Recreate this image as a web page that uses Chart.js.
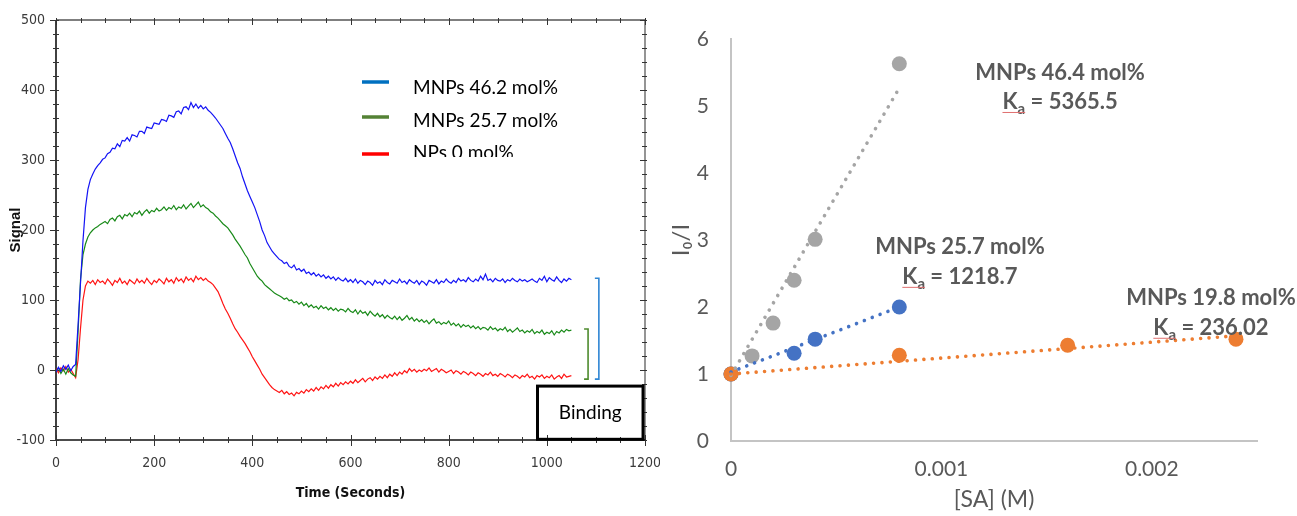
<!DOCTYPE html>
<html><head><meta charset="utf-8">
<script src="https://cdn.jsdelivr.net/npm/chart.js@4.4.1/dist/chart.umd.min.js"></script>
<style>
html,body{margin:0;padding:0;background:#fff;width:1297px;height:516px;overflow:hidden}
#wrap{position:relative;width:1297px;height:516px;background:#fff}
#left{position:absolute;left:0;top:0;width:660px;height:516px}
#right{position:absolute;left:660px;top:0;width:637px;height:516px}
</style></head><body>
<div id="wrap"><canvas id="left" width="660" height="516"></canvas><canvas id="right" width="637" height="516"></canvas></div>
<script>
// ---------- Left chart: sensorgram (signal vs time, 5 s sampling) ----------
const TIME_STEP_S = 5;
const SIGNAL_BLUE = [
 -3, 4, -2, 6, 1, 7, -1, 5, 8, 65,
 125, 185, 232, 258, 272, 280, 287, 292, 296, 301,
 303, 309, 311, 317, 316, 323, 319, 328, 327, 332,
 327, 336, 335, 333, 341, 341, 338, 347, 346, 345,
 353, 352, 351, 358, 357, 355, 364, 363, 361, 369,
 370, 366, 375, 376, 372, 382, 375, 380, 374, 378,
 373, 376, 371, 368, 364, 360, 355, 350, 345, 338,
 331, 325, 316, 306, 296, 288, 276, 266, 256, 248,
 240, 232, 222, 212, 200, 192, 182, 176, 170, 166,
 162, 158, 156, 152, 154, 148, 146, 150, 143, 145,
 141, 144, 138, 140, 136, 139, 134, 137, 133, 136,
 131, 134, 130, 133, 128, 132, 129, 127, 131, 126,
 129, 125, 130, 124, 128, 126, 122, 127, 125, 121,
 128, 124, 126, 122, 129, 125, 123, 128, 126, 124,
 130, 125, 127, 123, 129, 126, 124, 128, 122, 127,
 125, 121, 128, 126, 124, 129, 123, 127, 125, 130,
 126, 124, 128, 125, 131, 127, 129, 126, 132, 128,
 126, 130, 127, 134, 129, 137, 128, 130, 126, 131,
 128, 127, 130, 125, 129, 127, 131, 128, 126, 130,
 127, 129, 126, 128, 130, 127, 125, 131, 128, 134,
 126, 132, 129, 127, 133, 128, 125, 130, 127, 131,
 129
];
const SIGNAL_GREEN = [
 -2, 3, -5, 1, -6, 2, -4, -7, -9, 55,
 130, 165, 180, 190, 196, 200, 203, 205, 208, 210,
 212, 209, 215, 217, 213, 219, 221, 216, 222, 220,
 224, 219, 225, 223, 227, 221, 226, 229, 224, 228,
 226, 231, 227, 229, 233, 228, 232, 230, 235, 229,
 233, 231, 236, 230, 234, 238, 232, 236, 240, 233,
 236, 232, 230, 226, 224, 220, 217, 213, 209, 206,
 203, 198, 193, 187, 182, 177, 171, 165, 160, 152,
 146, 140, 134, 130, 127, 122, 119, 116, 113, 110,
 108, 106, 104, 101, 103, 99, 100, 96, 98, 94,
 97, 92, 95, 90, 93, 89, 91, 87, 92, 88,
 90, 86, 89, 85, 88, 84, 87, 86, 83, 88,
 84, 82, 86, 80, 85, 81, 83, 78, 84, 80,
 77, 81, 76, 79, 74, 78, 75, 73, 77, 72,
 76, 71, 74, 78, 72, 75, 70, 73, 69, 72,
 68, 71, 66, 70, 73, 67, 69, 65, 68, 66,
 70, 64, 67, 63, 66, 61, 65, 62, 64, 60,
 63, 59, 62, 58, 61, 60, 57, 62, 58, 60,
 56, 59, 57, 61, 55, 58, 54, 57, 60, 55,
 57, 53, 56, 54, 58, 52, 55, 53, 57, 51,
 54, 52, 56, 50, 55, 53, 57, 54, 58, 56,
 57
];
const SIGNAL_RED = [
 2, -4, 3, -1, 5, -3, 1, -5, -11, 15,
 60, 100, 120, 127, 124, 128, 122, 129, 125, 127,
 123, 130, 126, 121, 128, 125, 131, 124, 127, 122,
 129, 126, 123, 130, 125, 128, 124, 131, 126, 122,
 128, 125, 130, 127, 123, 131, 126, 129, 124, 132,
 127, 130, 125, 133, 128, 131, 126, 134, 129, 132,
 128, 131, 127, 125, 122, 117, 112, 104, 95, 87,
 81, 74, 66, 59, 54, 48, 43, 38, 32, 26,
 19, 13, 7, 1, -6, -11, -16, -21, -25, -28,
 -30, -32, -29, -34, -31, -35, -33, -37, -32, -34,
 -30, -33, -28, -31, -27, -30, -25, -29, -24, -27,
 -22, -26, -21, -24, -19, -23, -18, -21, -17, -20,
 -16, -19, -14, -18, -15, -12, -17, -13, -11, -15,
 -10, -13, -9, -12, -7, -11, -6, -9, -4, -8,
 -3, -6, -1, -4, 2, -2, 1, -3, 0, -2,
 1, -1, 3, -2, 0, 2, -3, 1, -1, -4,
 -2, 0, -5, -1, -3, -6, -2, -4, -7, -3,
 -5, -8, -4, -6, -9, -5, -7, -3, -8, -6,
 -9, -5, -7, -10, -6, -8, -11, -7, -9, -12,
 -8, -10, -6, -11, -9, -13, -8, -10, -7, -12,
 -9, -11, -7, -13, -10, -8, -12, -6, -10, -9,
 -8
];
const TIME_S = SIGNAL_BLUE.map((_, i) => i * TIME_STEP_S);
const LEFT_SERIES_NAMES = ['MNPs 46.2 mol%', 'MNPs 25.7 mol%', 'NPs 0 mol%'];
const LEFT_X_LABEL_EVERY = 200;
const LEFT_Y_LABEL_EVERY = 100;

// ---------- Right chart: I0/I vs [SA] ----------
const SA_GRAY = [0, 0.0001, 0.0002, 0.0003, 0.0004, 0.0008];
const RATIO_GRAY = [1.0, 1.27, 1.76, 2.40, 3.01, 5.63];
const SA_BLUE = [0, 0.0003, 0.0004, 0.0008];
const RATIO_BLUE = [1.0, 1.31, 1.52, 2.00];
const SA_ORANGE = [0, 0.0008, 0.0016, 0.0024];
const RATIO_ORANGE = [1.0, 1.28, 1.43, 1.52];
const TREND_GRAY_X = [0, 0.0008], TREND_GRAY_Y = [0.98, 5.27];
const TREND_BLUE_X = [0, 0.0008], TREND_BLUE_Y = [1.03, 2.00];
const TREND_ORANGE_X = [0, 0.0024], TREND_ORANGE_Y = [1.00, 1.57];
const RIGHT_X_TICKS = [0, 0.001, 0.002];
const RIGHT_X_TICK_LABELS = ['0', '0.001', '0.002'];
const FIT_NAMES = ['MNPs 46.4 mol%', 'MNPs 25.7 mol%', 'MNPs 19.8 mol%'];
const FIT_KA = ['5365.5', '1218.7', '236.02'];

const pts = (xs, ys) => xs.map((x, i) => ({x, y: ys[i]}));

// ---------- left plugins ----------
const NARROW = "'Liberation Sans Narrow', 'Arial Narrow', 'DejaVu Sans Condensed', 'Liberation Sans', sans-serif";
function seg(ctx, x1, y1, x2, y2) { ctx.beginPath(); ctx.moveTo(x1, y1); ctx.lineTo(x2, y2); ctx.stroke(); }
const noOverflow = s => { s.paddingLeft = 0; s.paddingRight = 0; s.paddingTop = 0; s.paddingBottom = 0; };

const leftFrame = {
  id: 'leftFrame',
  beforeDatasetsDraw(chart) {
    const {ctx, chartArea: a, scales: {x, y}} = chart;
    ctx.save();
    ctx.lineCap = 'butt';
    ctx.strokeStyle = '#555'; ctx.lineWidth = 1.3; seg(ctx, a.left, a.top, a.right, a.top);
    ctx.strokeStyle = '#7a7a7a'; ctx.lineWidth = 1.6; seg(ctx, a.right, a.top, a.right, a.bottom);
    ctx.strokeStyle = '#111'; ctx.lineWidth = 1.6;
    seg(ctx, a.left, a.top, a.left, a.bottom);
    seg(ctx, a.left, a.bottom, a.right, a.bottom);
    ctx.lineWidth = 1; ctx.strokeStyle = '#333';
    x.ticks.forEach(t => {
      const px = Math.round(x.getPixelForValue(t.value)) + 0.5;
      const major = Math.abs(t.value % LEFT_X_LABEL_EVERY) < 1e-6;
      if (major) seg(ctx, px, a.bottom - 5, px, a.bottom + 6); else seg(ctx, px, a.bottom - 3, px, a.bottom + 3);
      seg(ctx, px, a.top - 2, px, a.top + (major ? 5 : 3));
    });
    y.ticks.forEach(t => {
      const py = Math.round(y.getPixelForValue(t.value)) + 0.5;
      const major = Math.abs(t.value % LEFT_Y_LABEL_EVERY) < 1e-6;
      if (major) seg(ctx, a.left - 6, py, a.left + 3, py); else seg(ctx, a.left - 3, py, a.left + 3, py);
      seg(ctx, a.right - (major ? 5 : 3), py, a.right + 2, py);
    });
    ctx.restore();
  },
  afterDatasetsDraw(chart) {
    const {ctx, scales: {x, y}} = chart;
    ctx.save();
    // brackets
    const bracket = (t, v1, v2, color) => {
      const px = x.getPixelForValue(t), p1 = y.getPixelForValue(v1), p2 = y.getPixelForValue(v2);
      ctx.strokeStyle = color; ctx.lineWidth = 1.6;
      ctx.beginPath(); ctx.moveTo(px - 4, p1); ctx.lineTo(px, p1); ctx.lineTo(px, p2); ctx.lineTo(px - 4, p2); ctx.stroke();
    };
    bracket(1106, 131, -13, '#2F86D4');
    bracket(1084, 58.5, -13, '#4E8B2E');
    // Binding box
    const bx1 = x.getPixelForValue(981), bx2 = x.getPixelForValue(1196);
    const by1 = y.getPixelForValue(-23), by2 = y.getPixelForValue(-99);
    ctx.strokeStyle = '#000'; ctx.lineWidth = 3;
    ctx.strokeRect(bx1, by1, bx2 - bx1, by2 - by1);
    ctx.fillStyle = '#000'; ctx.font = "19px Lato, 'Open Sans', sans-serif";
    ctx.textAlign = 'center'; ctx.textBaseline = 'alphabetic';
    ctx.fillText('Binding', (bx1 + bx2) / 2, by1 + 33);
    // legend (pasted, bottom line clipped)
    ctx.beginPath(); ctx.rect(340, 60, 240, 97); ctx.clip();
    const rows = [[82, 94], [117, 127], [154, 159]];
    chart.data.datasets.forEach((ds, i) => {
      ctx.strokeStyle = ds.legendColor; ctx.lineWidth = 3.5;
      seg(ctx, 362, rows[i][0], 389, rows[i][0]);
      ctx.fillStyle = '#000'; ctx.textAlign = 'left';
      ctx.font = "19px Lato, 'Open Sans', sans-serif";
      ctx.fillText(ds.label, 413, rows[i][1]);
    });
    ctx.restore();
  }
};

new Chart(document.getElementById('left'), {
  type: 'line',
  data: {
    datasets: [
      {label: LEFT_SERIES_NAMES[0], data: pts(TIME_S, SIGNAL_BLUE), borderColor: '#1414f5', legendColor: '#0070C0', borderWidth: 1.2, pointRadius: 0, tension: 0},
      {label: LEFT_SERIES_NAMES[1], data: pts(TIME_S, SIGNAL_GREEN), borderColor: '#198a19', legendColor: '#548235', borderWidth: 1.2, pointRadius: 0, tension: 0},
      {label: LEFT_SERIES_NAMES[2], data: pts(TIME_S, SIGNAL_RED), borderColor: '#ff1414', legendColor: '#FF0000', borderWidth: 1.2, pointRadius: 0, tension: 0}
    ]
  },
  options: {
    responsive: false, animation: false, events: [],
    layout: {padding: {top: 20, right: 15, left: 0, bottom: 0}},
    plugins: {legend: {display: false}, tooltip: {enabled: false}},
    scales: {
      x: {
        type: 'linear', min: 0, max: 1200,
        ticks: {stepSize: 50, autoSkip: false, maxRotation: 0, padding: 15, color: '#3a3a3a',
          font: {family: NARROW, size: 14},
          callback: v => (Math.abs(v % LEFT_X_LABEL_EVERY) < 1e-6 ? String(v) : '')},
        grid: {display: false, drawTicks: false}, border: {display: false},
        title: {display: true, text: 'Time (Seconds)', color: '#111', font: {family: NARROW, size: 14, weight: 'bold'}, padding: {top: 0, bottom: 14}},
        afterFit: s => { s.height = 76; noOverflow(s); }
      },
      y: {
        min: -100, max: 500,
        ticks: {stepSize: 20, autoSkip: false, padding: 11, color: '#3a3a3a',
          font: {family: NARROW, size: 14},
          callback: v => (Math.abs(v % LEFT_Y_LABEL_EVERY) < 1e-6 ? String(v) : '')},
        grid: {display: false, drawTicks: false}, border: {display: false},
        title: {display: true, text: 'Signal', color: '#111', font: {family: "'Liberation Sans', Arial, sans-serif", size: 15, weight: 'bold'}, padding: {top: 7, bottom: 0}},
        afterFit: s => { s.width = 56; noOverflow(s); }
      }
    }
  },
  plugins: [leftFrame]
});

// ---------- right chart ----------
const GRAY_TXT = '#595959';
const LATO = "Lato, 'Open Sans', 'Noto Sans', 'DejaVu Sans', sans-serif";
const fitLabels = {
  id: 'fitLabels',
  afterDatasetsDraw(chart) {
    const {ctx, scales: {x, y}} = chart;
    const anchors = [[0.001564, 5.49, 5.06], [0.001088, 2.90, 2.45], [0.002281, 2.13, 1.69]];
    ctx.save();
    ctx.fillStyle = GRAY_TXT; ctx.textBaseline = 'middle';
    anchors.forEach((an, i) => {
      const cx = x.getPixelForValue(an[0]);
      ctx.font = `bold 22px ${LATO}`; ctx.textAlign = 'center';
      ctx.fillText(FIT_NAMES[i], cx, y.getPixelForValue(an[1]));
      const ky = y.getPixelForValue(an[2]);
      const rest = ' = ' + FIT_KA[i];
      ctx.font = `bold 22px ${LATO}`; const wK = ctx.measureText('K').width, wR = ctx.measureText(rest).width;
      ctx.font = `bold 15px ${LATO}`; const wA = ctx.measureText('a').width;
      let sx = cx - (wK + wA + wR) / 2;
      ctx.textAlign = 'left';
      ctx.font = `bold 22px ${LATO}`; ctx.fillText('K', sx, ky);
      ctx.font = `bold 15px ${LATO}`; ctx.fillText('a', sx + wK, ky + 7);
      ctx.font = `bold 22px ${LATO}`; ctx.fillText(rest, sx + wK + wA, ky);
      ctx.strokeStyle = '#e07070'; ctx.lineWidth = 1;
      seg(ctx, sx, ky + 10.5, sx + wK + wA, ky + 10.5);
    });
    ctx.restore();
  }
};

const dotted = (xs, ys, color) => ({type: 'line', data: pts(xs, ys), borderColor: color, borderWidth: 3.6,
  borderDash: [0.01, 8.4], borderCapStyle: 'round', pointRadius: 0, fill: false, clip: false, tension: 0});
const markers = (xs, ys, color) => ({data: pts(xs, ys), backgroundColor: color, borderColor: color, borderWidth: 0,
  pointRadius: 7.5, showLine: false, clip: false});

new Chart(document.getElementById('right'), {
  type: 'scatter',
  data: {
    datasets: [
      dotted(TREND_ORANGE_X, TREND_ORANGE_Y, '#ED7D31'),
      dotted(TREND_BLUE_X, TREND_BLUE_Y, '#4472C4'),
      dotted(TREND_GRAY_X, TREND_GRAY_Y, '#A5A5A5'),
      markers(SA_ORANGE, RATIO_ORANGE, '#ED7D31'),
      markers(SA_BLUE, RATIO_BLUE, '#4472C4'),
      markers(SA_GRAY, RATIO_GRAY, '#A5A5A5')
    ]
  },
  options: {
    responsive: false, animation: false, events: [],
    layout: {padding: {top: 39, right: 40, left: 0, bottom: 0}},
    plugins: {legend: {display: false}, tooltip: {enabled: false}},
    scales: {
      x: {
        type: 'linear', min: 0, max: 0.0025,
        ticks: {stepSize: 0.001, includeBounds: false, autoSkip: false, maxRotation: 0, padding: 16, color: GRAY_TXT,
          font: {family: LATO, size: 21},
          callback: v => { const i = RIGHT_X_TICKS.findIndex(t => Math.abs(t - v) < 1e-9); return i >= 0 ? RIGHT_X_TICK_LABELS[i] : ''; }},
        grid: {display: false, drawTicks: false},
        border: {display: true, color: '#c4c4c4', width: 2},
        title: {display: true, text: '[SA] (M)', color: GRAY_TXT, font: {family: LATO, size: 23}, padding: {top: 0, bottom: 3}},
        afterFit: s => { s.height = 75; noOverflow(s); }
      },
      y: {
        min: 0, max: 6,
        ticks: {stepSize: 1, padding: 22, color: GRAY_TXT, font: {family: LATO, size: 21}},
        grid: {display: false, drawTicks: false},
        border: {display: true, color: '#c4c4c4', width: 2},
        title: {display: true, text: 'I\u2080/I', color: GRAY_TXT, font: {family: LATO, size: 24}, padding: {top: 7, bottom: 0}},
        afterFit: s => { s.width = 71; noOverflow(s); }
      }
    }
  },
  plugins: [fitLabels]
});
</script>
</body></html>
